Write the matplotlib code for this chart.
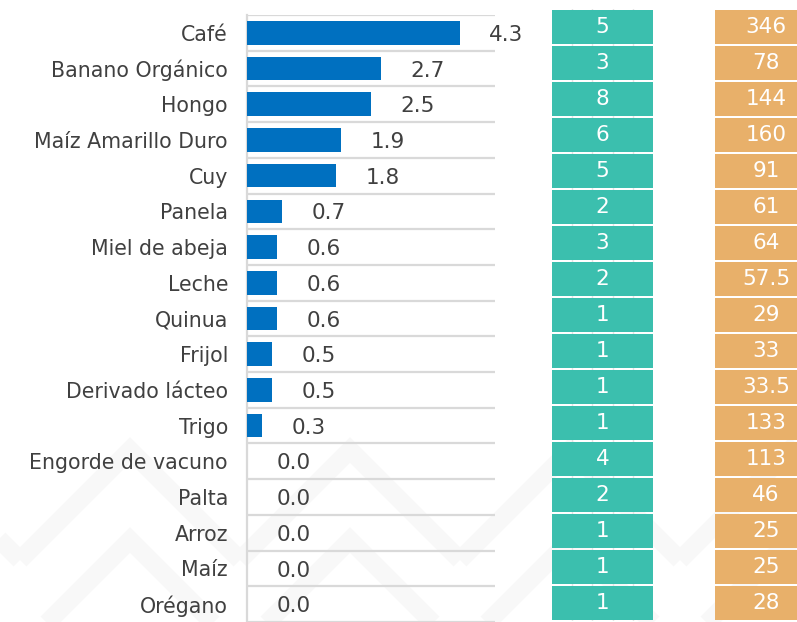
import matplotlib
matplotlib.use("Agg")
import matplotlib.pyplot as plt

productos = ["Café", "Banano Orgánico", "Hongo", "Maíz Amarillo Duro", "Cuy",
             "Panela", "Miel de abeja", "Leche", "Quinua", "Frijol",
             "Derivado lácteo", "Trigo", "Engorde de vacuno", "Palta", "Arroz",
             "Maíz", "Orégano"]
valores = [4.3, 2.7, 2.5, 1.9, 1.8, 0.7, 0.6, 0.6, 0.6, 0.5, 0.5, 0.3,
           0.0, 0.0, 0.0, 0.0, 0.0]
cantidad = ["5", "3", "8", "6", "5", "2", "3", "2", "1", "1", "1", "1",
            "4", "2", "1", "1", "1"]
monto = ["346", "78", "144", "160", "91", "61", "64", "57.5", "29", "33",
         "33.5", "133", "113", "46", "25", "25", "28"]

W, H = 797, 622
BLUE = "#0070C0"
TEAL = "#3BBFAE"
ORANGE = "#E8B06A"
TXT = "#404040"
GRID = "#D9D9D9"
FONT = "DejaVu Sans"

fig = plt.figure(figsize=(W / 100, H / 100), dpi=100)
fig.patch.set_facecolor("white")

# faint chevron watermark in the background
bg = fig.add_axes([0, 0, 1, 1], zorder=-10)
bg.set_xlim(0, W)
bg.set_ylim(H, 0)
bg.axis("off")
for x0 in range(-200, W + 200, 220):
    for y0 in (470, 560):
        pts = [(x0, y0 + 90), (x0 + 110, y0 - 20), (x0 + 220, y0 + 90)]
        bg.plot([p[0] for p in pts], [p[1] for p in pts], color="#F8F8F8",
                lw=13, solid_capstyle="butt", solid_joinstyle="miter", zorder=0)


def px_axes(left, top, right, bottom, **kw):
    return fig.add_axes([left / W, 1 - bottom / H, (right - left) / W,
                         (bottom - top) / H], **kw)


n = len(productos)
ypos = list(range(n))

# main bar chart
ax = px_axes(247.5, 15, 494.5, 622)
ax.set_facecolor("none")
ax.barh(ypos, valores, height=0.66, color=BLUE, zorder=3)
ax.set_xlim(0, 5)
ax.set_ylim(n - 0.5, -0.5)
for k in range(n + 1):
    ax.axhline(k - 0.5, color=GRID, lw=1.6, zorder=1)
for s in ("top", "right", "bottom"):
    ax.spines[s].set_visible(False)
ax.spines["left"].set_color(GRID)
ax.spines["left"].set_linewidth(1.6)
ax.set_xticks([])
ax.set_yticks(ypos)
ax.set_yticklabels(productos, fontsize=14.8, color=TXT, family=FONT)
ax.tick_params(axis="y", length=0, pad=14)
for y, v in zip(ypos, valores):
    ax.annotate(f"{v:.1f}", xy=(v, y), xytext=(21, -1.5), textcoords="offset points",
                ha="left", va="center", fontsize=15.5, color=TXT, family=FONT)


def column(left, right, labels, color):
    a = px_axes(left, 9, right, 621)
    a.set_xlim(0, 1)
    a.set_ylim(n - 0.5, -0.5)
    a.barh(ypos, [1] * n, height=0.94, left=0, color=color, zorder=2)
    for y, t in zip(ypos, labels):
        a.text(0.5, y, t, ha="center", va="center", color="white",
               fontsize=15.5, family=FONT, zorder=3)
    a.axis("off")
    return a


teal_ax = column(552, 653, cantidad, TEAL)
for xv in (0.2, 0.4, 0.6, 0.8):
    teal_ax.axvline(xv, color="#E4E4E4", lw=1, zorder=1)
column(715, 817, monto, ORANGE)

fig.savefig("out.png", dpi=100, facecolor="white")
